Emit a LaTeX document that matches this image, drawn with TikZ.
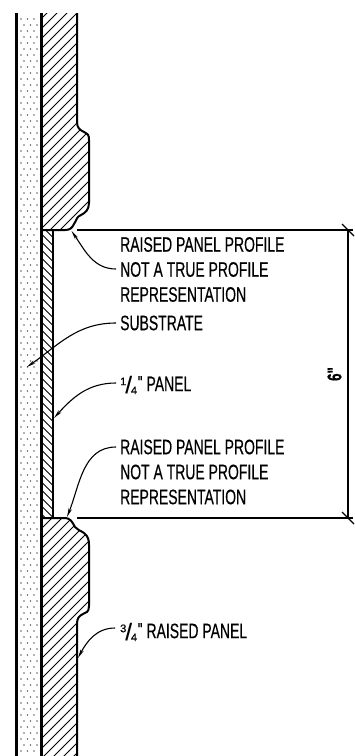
\documentclass[tikz,border=0pt]{standalone}
\usepackage{fontspec}
\newfontfamily\cadfont[FakeStretch=0.665,FakeBold=0.4]{Liberation Sans}
\newfontfamily\fracfont[FakeBold=0.3]{Liberation Sans}
\usepackage{tikz}
\usetikzlibrary{arrows.meta}
\newcommand{\cadfrac}[2]{\raisebox{6pt}{\fontsize{11}{11}\selectfont\fracfont #1}\kern-1pt\raisebox{-2pt}{\fontsize{24}{24}\selectfont\fracfont /}\kern-1pt\raisebox{-3pt}{\fontsize{11}{11}\selectfont\fracfont #2}\kern0.5pt\raisebox{4pt}{\fontsize{16}{16}\selectfont\bfseries "}}

\begin{document}
\begin{tikzpicture}[x=1pt,y=-1pt]
\useasboundingbox (0,0) rectangle (354,756);

%the raised panel outlines, they get hatched below
\def\upperpanel{(41.5,13) -- (77,13) -- (77,122) .. controls (77,128) and (80,130) .. (84,132) .. controls (88,134) and (89,135) .. (89,140) -- (89,203) .. controls (89,210) and (85,213) .. (81,215) .. controls (76,217) and (77,220) .. (74,224) .. controls (72,228) and (70,230) .. (65,230) -- (41.5,230) -- cycle}
\def\lowerpanel{(41.5,518) -- (64,518) .. controls (71,518) and (72,522) .. (75,527) .. controls (77,530) and (80,530) .. (84,533) .. controls (88,536) and (89,540) .. (89,545) -- (89,606) .. controls (89,612) and (86,613) .. (83,614) .. controls (79,616) and (77,618) .. (77,624) -- (77,756) -- (41.5,756) -- cycle}

%hatching of the 3/4 panel, both pieces
\begin{scope}
    \clip \upperpanel;
    \foreach \y in {0,10,...,300}
        \draw[line width=1pt] (30,\y) -- ++(70,-70);
\end{scope}
\begin{scope}
    \clip \lowerpanel;
    \foreach \y in {510,520,...,860}
        \draw[line width=1pt] (30,\y) -- ++(70,-70);
\end{scope}

%hatching of the 1/4 panel goes the other way
\begin{scope}
    \clip (41.5,230) rectangle (53,518);
    \foreach \y in {210,218,...,520}
        \draw[line width=1pt] (41.5,\y) -- ++(14,14);
\end{scope}

%the dots of the substrate, every other row is shifted
\foreach \row in {0,1,...,123} {
    \pgfmathsetmacro{\rowshift}{mod(\row,2)*3}
    \foreach \col in {0,1,2} {
        \fill[black!60] (21+\rowshift+\col*6.5,19+\row*6) circle (0.8);
    }
}

%outlines
\draw[line width=2.6pt] (16.5,13) -- (16.5,756);
\draw[line width=2.6pt] (41.5,13) -- (41.5,756);
\draw[line width=2pt] (77,13) -- (77,122) .. controls (77,128) and (80,130) .. (84,132) .. controls (88,134) and (89,135) .. (89,140) -- (89,203) .. controls (89,210) and (85,213) .. (81,215) .. controls (76,217) and (77,220) .. (74,224) .. controls (72,228) and (70,230) .. (65,230) -- (41.5,230);
\draw[line width=2pt] (41.5,518) -- (64,518) .. controls (71,518) and (72,522) .. (75,527) .. controls (77,530) and (80,530) .. (84,533) .. controls (88,536) and (89,540) .. (89,545) -- (89,606) .. controls (89,612) and (86,613) .. (83,614) .. controls (79,616) and (77,618) .. (77,624) -- (77,756);
\draw[line width=2pt] (53,230) -- (53,518);

%all of the labels
\begin{scope}[every node/.style={anchor=west,inner sep=0pt,align=left,
              font=\cadfont\fontsize{21}{25}\selectfont}]
    \node (profiletop) at (120,269.5) {RAISED PANEL PROFILE\\NOT A TRUE PROFILE\\REPRESENTATION};
    \node (substrate) at (120,323) {SUBSTRATE};
    \node (quarter) at (120,385) {\cadfrac{1}{4} PANEL};
    \node (profilelow) at (120,472) {RAISED PANEL PROFILE\\NOT A TRUE PROFILE\\REPRESENTATION};
    \node (threequarter) at (120,632) {\cadfrac{3}{4} RAISED PANEL};
\end{scope}
\node[rotate=90,inner sep=0pt,font=\cadfont\bfseries\fontsize{20}{20}\selectfont] (six) at (334.5,374) {6"};

%where the leaders start and end
\coordinate (startone) at (116,269);
\coordinate (starttwo) at (116,323);
\coordinate (startthree) at (116,383);
\coordinate (startfour) at (116,447);
\coordinate (startfive) at (115,628);
\coordinate (tipone) at (71.5,231);
\coordinate (tiptwo) at (27,367);
\coordinate (tipthree) at (54,418);
\coordinate (tipfour) at (67,517);
\coordinate (tipfive) at (78,658);

%leaders
\begin{scope}[>={Stealth[black,length=9pt,width=3.5pt]},every edge/.style={draw=black,line width=1.1pt}]
    \path [->] (startone) edge[out=180,in=-55] (tipone);
    \path [->] (starttwo) edge[out=180,in=35] (tiptwo);
    \path [->] (startthree) edge[out=180,in=48] (tipthree);
    \path [->] (startfour) edge[out=180,in=68] (tipfour);
    \path [->] (startfive) edge[out=180,in=62] (tipfive);
\end{scope}

%the dimension with its slashes
\coordinate (dimtop) at (348,230);
\coordinate (dimlow) at (348,518);
\draw[line width=1.1pt] (77,230) -- (353,230);
\draw[line width=1.1pt] (77,518) -- (353,518);
\draw[line width=1.1pt] (dimtop) -- (dimlow);
\draw[line width=1.1pt] ([shift={(-6,-6)}]dimtop) -- ([shift={(6,6)}]dimtop);
\draw[line width=1.1pt] ([shift={(-6,-6)}]dimlow) -- ([shift={(6,6)}]dimlow);
\end{tikzpicture}
\end{document}
